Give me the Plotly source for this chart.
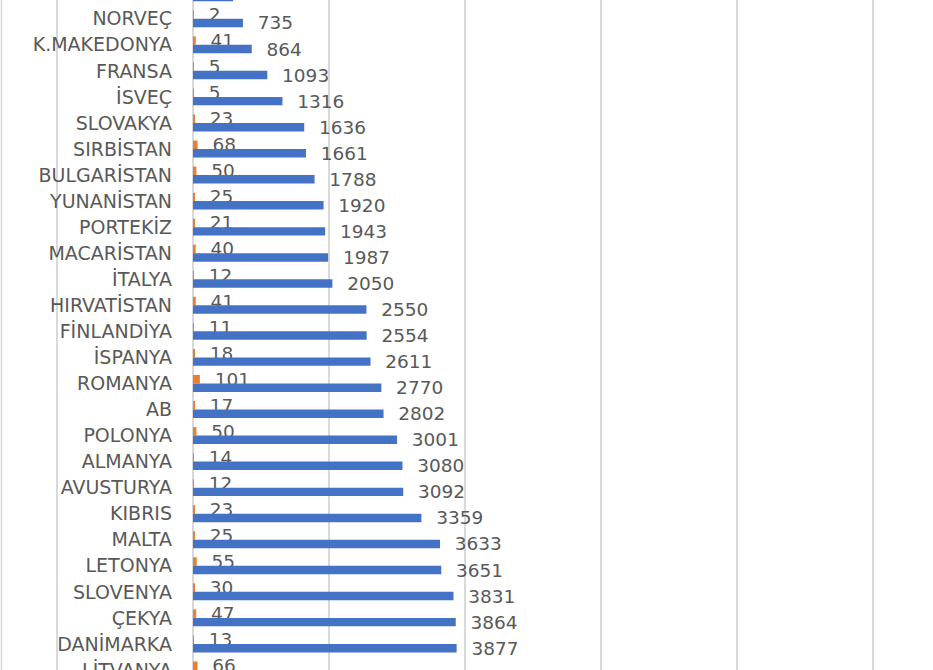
import plotly.graph_objects as go

categories = ["İZLANDA", "NORVEÇ", "K.MAKEDONYA", "FRANSA", "İSVEÇ", "SLOVAKYA", "SIRBİSTAN",
              "BULGARİSTAN", "YUNANİSTAN", "PORTEKİZ", "MACARİSTAN", "İTALYA", "HIRVATİSTAN",
              "FİNLANDİYA", "İSPANYA", "ROMANYA", "AB", "POLONYA", "ALMANYA", "AVUSTURYA",
              "KIBRIS", "MALTA", "LETONYA", "SLOVENYA", "ÇEKYA", "DANİMARKA", "LİTVANYA"]
orange_vals = [3, 2, 41, 5, 5, 23, 68, 50, 25, 21, 40, 12, 41, 11, 18, 101, 17, 50, 14, 12,
               23, 25, 55, 30, 47, 13, 66]
blue_vals = [590, 735, 864, 1093, 1316, 1636, 1661, 1788, 1920, 1943, 1987, 2050, 2550, 2554,
             2611, 2770, 2802, 3001, 3080, 3092, 3359, 3633, 3651, 3831, 3864, 3877, 4001]

FONT = "DejaVu Sans"
GRAY = "#595959"
GRID = "#D9D9D9"

fig = go.Figure()
fig.add_trace(go.Bar(
    y=categories, x=orange_vals, orientation="h", name="orange",
    marker=dict(color="#ED7D31", line=dict(width=0)),
    text=orange_vals, texttemplate="\u00a0\u00a0%{x}", textposition="outside",
    constraintext="none", cliponaxis=False,
    textfont=dict(family=FONT, size=18.5, color=GRAY),
))
fig.add_trace(go.Bar(
    y=categories, x=blue_vals, orientation="h", name="blue",
    marker=dict(color="#4472C4", line=dict(width=0)),
    text=blue_vals, texttemplate="\u00a0\u00a0%{x}", textposition="outside",
    constraintext="none", cliponaxis=False,
    textfont=dict(family=FONT, size=18.5, color=GRAY),
))

ppu = 10000 / 680.0
x0_px = 193
sp = 26.05
c1 = 18.75
fig.update_layout(
    width=933, height=670,
    margin=dict(l=0, r=0, t=0, b=0, autoexpand=False),
    paper_bgcolor="white", plot_bgcolor="white",
    barmode="group", bargap=0.35, bargroupgap=0,
    showlegend=False,
    xaxis=dict(range=[-x0_px * ppu, (933 - x0_px) * ppu], dtick=2000, tick0=0, showgrid=True,
               gridcolor=GRID, gridwidth=1.5, zeroline=True, zerolinecolor=GRID,
               zerolinewidth=1.5, showticklabels=False, showline=False, fixedrange=True,
               automargin=False, domain=[0, 1]),
    yaxis=dict(type="category", categoryorder="array", categoryarray=categories,
               anchor="free", position=x0_px / 933.0,
               range=[1 + (670 - c1) / sp, 1 - c1 / sp], showgrid=False, zeroline=False,
               showline=False, ticks="", ticklabelstandoff=21, automargin=False,
               tickfont=dict(family=FONT, size=19, color=GRAY)),
    shapes=[
        dict(type="line", xref="paper", yref="paper", x0=1.5 / 933, x1=1.5 / 933,
             y0=0, y1=1, layer="below", line=dict(color=GRID, width=1.5)),
    ],
)

fig.write_html("out.html", config={"displayModeBar": False},
               post_script="document.body.style.margin='0px';document.body.style.overflow='hidden';")
